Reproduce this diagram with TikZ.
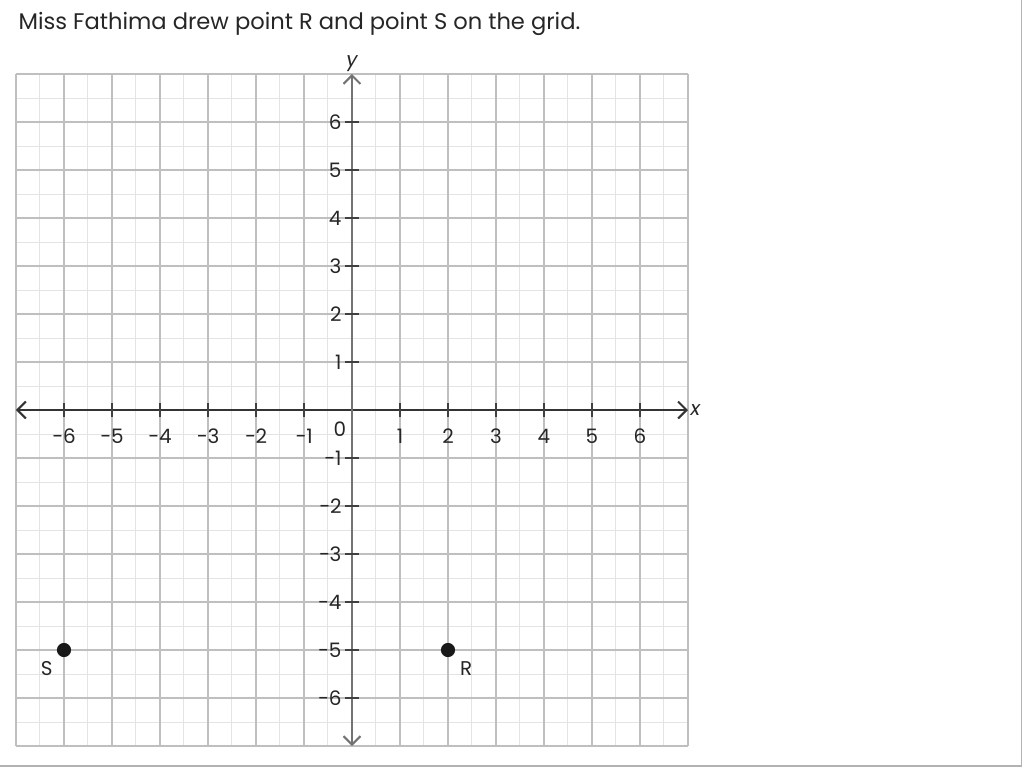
\documentclass[tikz,border=0pt]{standalone}
\usepackage{fontspec}
\setmainfont{Poppins}
\usetikzlibrary{arrows.meta}
\begin{document}
\begin{tikzpicture}[scale = 0.5,
        minor/.style = {draw = gray!22, line width = 0.3pt},
        major/.style = {draw = gray!50, line width = 0.4pt},
        axis/.style = {line width = 0.6pt, {Straight Barb[length = 2.5pt, width = 5pt]}-{Straight Barb[length = 2.5pt, width = 5pt]}},
        lbl/.style = {font = \fontsize{5.9}{6}\selectfont, text = black!85, inner sep = 0.5pt},
        dot/.style = {circle, fill = black!90, minimum size = 4.2pt, inner sep = 0pt}]
    \useasboundingbox (-7.333, -7.458) rectangle (14, 8.542);
    % frame of the page
    \draw [gray!60, line width = 0.5pt] (-7.333, -7.42) -- (13.95, -7.42) -- (13.95, 8.542);
    \node (title) [anchor = base west, inner sep = 0pt, text = black!85, font = \fontsize{6.7}{7}\selectfont]
        at (-6.96, 7.92) {Miss Fathima drew point R and point S on the grid.};
    % grid
    \draw [minor] (-7, -7) grid [step = 0.5] (7, 7);
    \draw [major] (-7, -7) grid [step = 1] (7, 7);
    % axes
    \draw [axis, draw = black!80] (-7, 0) -- (7, 0) node (xlabel) [right, lbl, font = \fontsize{5.9}{6}\selectfont\itshape] {x};
    \draw [axis, draw = black!55] (0, -7) -- (0, 7) node (ylabel) [above, lbl, font = \fontsize{5.9}{6}\selectfont\itshape] {y};
    \foreach \i in {-6, ..., -1, 1, 2, ..., 6} {
        \draw [black!75, line width = 0.4pt] (\i, -0.15) -- (\i, 0.15);
        \draw [black!75, line width = 0.4pt] (-0.15, \i) -- (0.15, \i);
        \node (xt\i) [lbl] at (\i, -0.55) {\ifnum\i<0 −\the\numexpr-\i\relax\else\i\fi};
        \node (yt\i) [lbl, anchor = east] at (-0.17, \i) {\ifnum\i<0 −\the\numexpr-\i\relax\else\i\fi};
    }
    \node (origin) [lbl] at (-0.25, -0.4) {0};
    % the two points
    \node (S) [dot] at (-6, -5) {};
    \node (R) [dot] at (2, -5) {};
    \node (Slabel) [lbl] at (-6.36, -5.38) {S};
    \node (Rlabel) [lbl] at (2.38, -5.38) {R};
\end{tikzpicture}
\end{document}
